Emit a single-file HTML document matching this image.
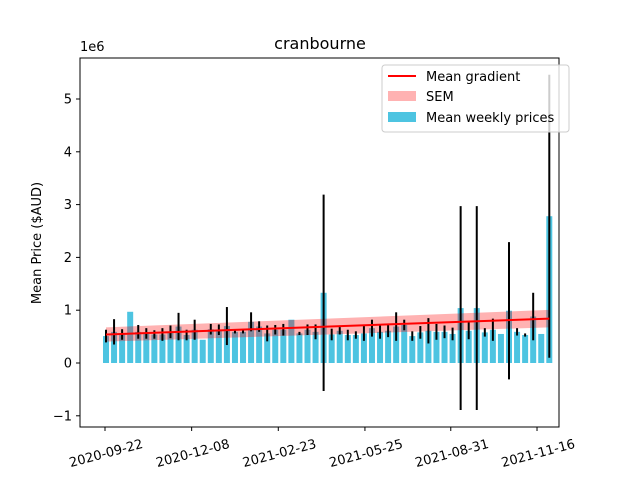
<!DOCTYPE html>
<html><head><meta charset="utf-8"><style>
body{margin:0;background:#fff}
svg{display:block;font-family:"DejaVu Sans","Liberation Sans",sans-serif}
</style></head><body>
<svg id="chart" width="640" height="480" viewBox="0 0 640 480">
<rect width="640" height="480" fill="#fff"/>
<g id="bars"></g>
<g id="band"></g>
<g id="errs"></g>
<g id="trend"></g>
<rect x="80" y="58" width="479" height="369" fill="none" stroke="#000" stroke-width="1"/>
<g id="axes"></g>
<text x="320" y="49" text-anchor="middle" font-size="16">cranbourne</text>
<text x="80" y="51" font-size="13">1e6</text>
<text transform="translate(41,243) rotate(-90)" text-anchor="middle" font-size="13">Mean Price ($AUD)</text>
<g>
<rect x="382" y="65" width="187" height="67" rx="3" fill="#fff" fill-opacity="0.8" stroke="#ccc"/>
<line x1="388" y1="76" x2="416" y2="76" stroke="red" stroke-width="2"/>
<text x="426" y="81" font-size="13">Mean gradient</text>
<rect x="388" y="91" width="28" height="10" fill="red" fill-opacity="0.3"/>
<text x="426" y="101" font-size="13">SEM</text>
<rect x="388" y="112" width="28" height="10" fill="#4dc4e1"/>
<text x="426" y="122" font-size="13">Mean weekly prices</text>
</g>
</svg>
<script>
const means=[0.51,0.59,0.54,0.97,0.59,0.56,0.54,0.54,0.59,0.69,0.53,0.63,0.44,0.64,0.63,0.70,0.59,0.59,0.78,0.69,0.56,0.63,0.63,0.82,0.56,0.63,0.59,1.33,0.54,0.61,0.53,0.53,0.56,0.66,0.59,0.61,0.69,0.72,0.51,0.58,0.61,0.59,0.59,0.55,1.04,0.61,1.04,0.58,0.63,0.55,0.99,0.59,0.53,0.88,0.55,2.78];
const errs=[0.12,0.24,0.10,0,0.13,0.10,0.08,0.12,0.12,0.26,0.10,0.19,0,0.10,0.10,0.36,0.03,0.03,0.18,0.10,0.15,0.09,0.11,0,0.03,0.10,0.14,1.86,0.11,0.07,0.10,0.07,0.14,0.16,0.13,0.12,0.27,0.10,0.09,0.12,0.24,0.15,0.12,0.12,1.93,0.16,1.93,0.08,0.21,0,1.30,0.07,0.03,0.45,0,2.68];
const trendEnds=[0.54,0.84];
const semEnds=[0.135,0.165];
const xTickPos=[0,10.75,21.5,32.25,42.9,53.6];
const xTickLabels=["2020-09-22","2020-12-08","2021-02-23","2021-05-25","2021-08-31","2021-11-16"];
const yTicks=[-1,0,1,2,3,4,5];
const NS="http://www.w3.org/2000/svg";
const X=i=>106+i*8.06;
const Y=v=>363-v*52.8;
function mk(tag,attrs,parent){const e=document.createElementNS(NS,tag);for(const k in attrs)e.setAttribute(k,attrs[k]);document.getElementById(parent).appendChild(e);return e;}
const n=means.length;
means.forEach((m,i)=>{
 const r=mk('rect',{x:X(i)-3,y:Math.min(Y(m),Y(0)),width:6,height:Math.abs(Y(0)-Y(m)),fill:'#4dc4e1'},'bars');
 
 
 if(errs[i]>0){
  const l=mk('line',{x1:X(i),x2:X(i),y1:Y(m+errs[i]),y2:Y(m-errs[i]),stroke:'#000','stroke-width':2},'errs');
  
  
 }
});
const t0=trendEnds[0],t1=trendEnds[1],s0=semEnds[0],s1=semEnds[1];
const bp=mk('polygon',{points:[X(0)+','+Y(t0+s0),X(n-1)+','+Y(t1+s1),X(n-1)+','+Y(t1-s1),X(0)+','+Y(t0-s0)].join(' '),fill:'red','fill-opacity':0.3},'band');


const tl=mk('line',{x1:X(0),y1:Y(t0),x2:X(n-1),y2:Y(t1),stroke:'red','stroke-width':2},'trend');


yTicks.forEach(v=>{
 const t=mk('line',{x1:76,x2:80,y1:Y(v),y2:Y(v),stroke:'#000'},'axes');
 
 
 const tx=mk('text',{x:72,y:Y(v)+4.5,'text-anchor':'end','font-size':13},'axes');
 tx.textContent=(v<0?'\u2212'+(-v):String(v));
 
 
});
xTickPos.forEach((p,i)=>{
 const x=X(p)-1;
 const t=mk('line',{x1:x,x2:x,y1:427,y2:431,stroke:'#000'},'axes');
 
 
 const tx=mk('text',{transform:'translate('+(x+1)+',453) rotate(-15)','text-anchor':'middle',dy:'0.35em','font-size':13},'axes');
 tx.textContent=xTickLabels[i];
 
 
});
</script>
</body></html>
